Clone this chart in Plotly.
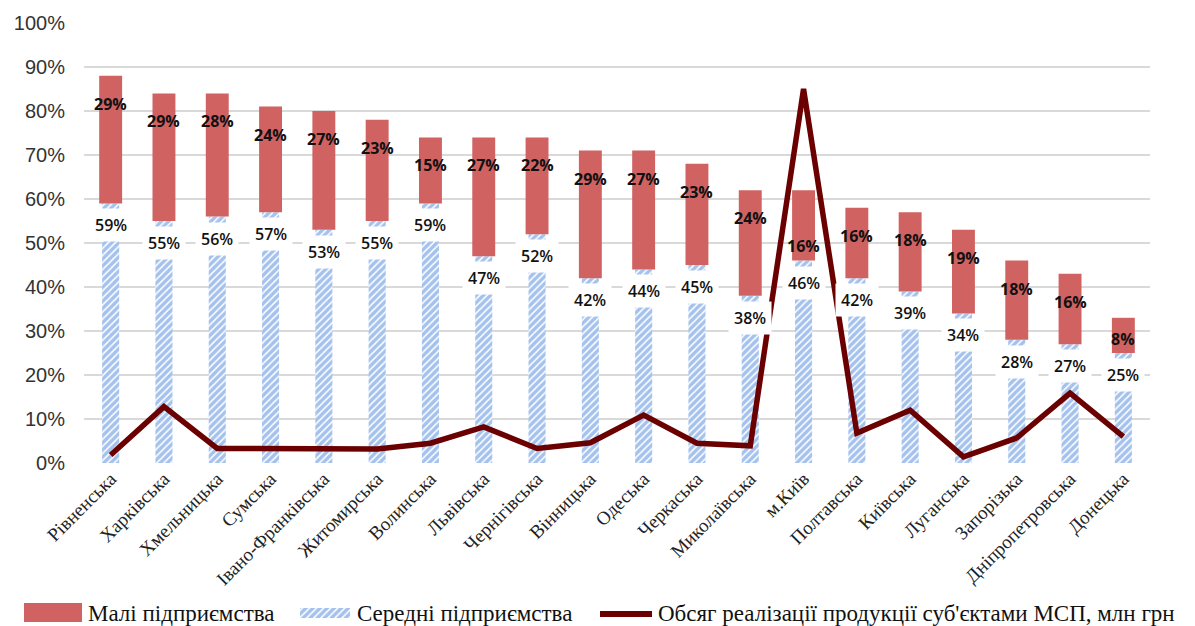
import plotly.graph_objects as go

regions = ["Рівненська", "Харківська", "Хмельницька", "Сумська", "Івано-Франківська",
           "Житомирська", "Волинська", "Львівська", "Чернігівська", "Вінницька",
           "Одеська", "Черкаська", "Миколаївська", "м.Київ", "Полтавська",
           "Київська", "Луганська", "Запорізька", "Дніпропетровська", "Донецька"]
medium = [59, 55, 56, 57, 53, 55, 59, 47, 52, 42, 44, 45, 38, 46, 42, 39, 34, 28, 27, 25]
small = [29, 29, 28, 24, 27, 23, 15, 27, 22, 29, 27, 23, 24, 16, 16, 18, 19, 18, 16, 8]
sales = [1.8, 12.8, 3.3, 3.3, 3.0, 3.2, 4.5, 8.2, 3.3, 4.6, 10.9, 4.5, 3.9, 85.0,
         6.8, 12.0, 1.4, 5.7, 15.9, 6.0]
yticks = [0, 10, 20, 30, 40, 50, 60, 70, 80, 90, 100]
legend_names = ["Малі підприємства", "Середні підприємства",
                "Обсяг реалізації продукції суб'єктами МСП, млн грн"]

# the page body adds an 8px margin; lay out in window pixels and subtract it
OFF = 8
W, H = 1195 - 2 * OFF, 626 - OFF
RED = "#D06262"
BLUE = "#4A86DC"
LINE = "#6B0000"
PLOT_L, PLOT_R, PLOT_T, PLOT_B = 84 - OFF, 1150 - OFF, 23 - OFF, 463 - OFF
PX_PER_PCT = (PLOT_B - PLOT_T) / 100
HATCH = dict(shape="/", fgcolor=BLUE, bgcolor="white", size=5, solidity=0.7)

fig = go.Figure()
fig.add_trace(go.Bar(
    x=regions, y=medium, name=legend_names[1], width=0.32,
    marker=dict(color="white", line=dict(width=0), pattern=HATCH),
    showlegend=False, hoverinfo="skip"))
fig.add_trace(go.Bar(
    x=regions, y=small, base=medium, name=legend_names[0], width=0.43,
    marker=dict(color=RED, line=dict(width=0)), showlegend=False, hoverinfo="skip"))
fig.add_trace(go.Scatter(
    x=regions, y=sales, mode="lines", name=legend_names[2],
    line=dict(color=LINE, width=5.5), showlegend=False, hoverinfo="skip"))

# legend swatch for hatched series (pixel-coordinate overlay axes)
fig.add_trace(go.Scatter(
    x=[x - OFF for x in (300, 350, 350, 300, 300)],
    y=[y - OFF for y in (608, 608, 618, 618, 608)], xaxis="x2", yaxis="y2",
    mode="lines", line=dict(width=0, color="rgba(0,0,0,0)"), fill="toself",
    fillcolor="white", fillpattern=HATCH,
    showlegend=False, hoverinfo="skip"))

label_center_override = {"м.Київ": 56}
annotations = []
for r, m, s in zip(regions, medium, small):
    annotations.append(dict(
        x=r, y=m, xref="x", yref="y", text=f"{m}%", showarrow=False,
        yanchor="top", yshift=-5, bgcolor="white", borderpad=5,
        font=dict(family="Open Sans", size=16, color="#111111", weight=600)))
    h_px = s * PX_PER_PCT
    center = label_center_override.get(r, min(28, h_px - 14))
    annotations.append(dict(
        x=r, y=m + s, xref="x", yref="y", text=f"{s}%", showarrow=False,
        yanchor="middle", yshift=-center,
        font=dict(family="Open Sans", size=16, color="#111111", weight=700)))

legend_font = dict(family="Liberation Serif", size=23, color="#111111")
for tx, name in zip([86, 355, 656], legend_names):
    annotations.append(dict(x=tx - OFF, y=613 - OFF, xref="x2", yref="y2", text=name,
                            showarrow=False, xanchor="left", yanchor="middle",
                            font=legend_font))

shapes = [
    dict(type="rect", xref="x2", yref="y2", x0=24 - OFF, x1=82 - OFF,
         y0=603 - OFF, y1=622 - OFF, fillcolor=RED, line=dict(width=0)),
    dict(type="line", xref="x2", yref="y2", x0=600 - OFF, x1=652 - OFF,
         y0=614 - OFF, y1=614 - OFF, line=dict(color=LINE, width=6)),
]

fig.update_layout(
    width=W, height=H, barmode="overlay",
    margin=dict(l=0, r=0, t=0, b=0, autoexpand=False),
    plot_bgcolor="rgba(0,0,0,0)", paper_bgcolor="white",
    annotations=annotations, shapes=shapes,
    showlegend=False,
    xaxis=dict(domain=[PLOT_L / W, PLOT_R / W], range=[-0.5, 19.5], tickangle=-45,
               showgrid=False, ticks="", showline=False, zeroline=False,
               tickfont=dict(family="Liberation Serif", size=19, color="#222222")),
    yaxis=dict(domain=[1 - PLOT_B / H, 1 - PLOT_T / H], range=[0, 100],
               tickvals=yticks, ticktext=[f"{v}%" for v in yticks],
               showgrid=True, gridcolor="#D9D9D9", gridwidth=2, zeroline=False,
               tickfont=dict(family="Liberation Sans", size=20, color="#333333"),
               ticks="", showline=False, ticklabelstandoff=18),
    xaxis2=dict(domain=[0, 1], range=[0, W], visible=False, anchor="y2", fixedrange=True),
    yaxis2=dict(domain=[0, 1], range=[H, 0], visible=False, anchor="x2", fixedrange=True),
)

fig.write_html("out.html")
